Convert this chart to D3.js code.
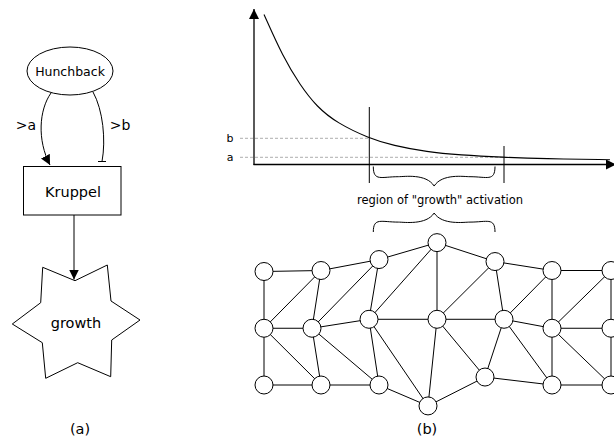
<!DOCTYPE html>
<html><head><meta charset="utf-8">
<script src="https://cdn.jsdelivr.net/npm/d3@7/dist/d3.min.js"></script>
<style>body{margin:0;background:#fff}svg{display:block;font-family:"DejaVu Sans",sans-serif}</style>
</head><body><svg id="c" width="614" height="439"></svg>
<script>
// ---- data ----
const curveX = [10, 29, 46, 63, 83, 115, 139, 173, 206, 249, 289, 356];
const curveY = [150, 107.5, 79.5, 57.5, 41.5, 26.2, 19, 12.5, 9.5, 7.2, 5.8, 4.8];
const thresholdLabels = ["a", "b"];
const thresholdValues = [7.2, 26.2];
const markerX = [115.3, 250];
const regionLabel = 'region of "growth" activation';
const panelLabels = ["(a)", "(b)"];
const geneNodes = ["Hunchback", "Kruppel", "growth"];
const edgeLabels = [">a", ">b"];
// network nodes: [column position, row position]
const netNodes = [
  [10, 0], [67, -1], [125, -12], [183, -29], [241, -10], [298, -1], [357, -1],
  [10, 57], [58, 57], [115, 48], [183, 48], [250, 48], [298, 57], [357, 57],
  [10, 114], [67, 114], [125, 114], [174, 135], [231, 106], [298, 114], [357, 114]
];
const netEdges = [
  [0,1],[1,2],[2,3],[3,4],[4,5],[5,6],
  [7,8],[8,9],[9,10],[10,11],[11,12],[12,13],
  [14,15],[15,16],[16,17],[17,18],[18,19],[19,20],
  [0,7],[7,14],[1,8],[8,15],[2,9],[9,16],[3,10],[10,17],[4,11],[11,18],[5,12],[12,19],[6,13],[13,20],
  [7,1],[7,15],[8,2],[8,16],[9,3],[9,17],[10,4],[10,18],[11,5],[11,19],[12,6],[12,20]
];
// star shape vertices (outer/inner alternating)
const starPts = [[42.7,267.3],[75,280.7],[107.3,265],[111,301],[140,320],[111.7,340],[110.7,376.7],[77.7,362.7],[45.7,378.3],[42.3,342.7],[12.3,324],[40.7,302.7]];

const svg = d3.select("#c");
const defs = svg.append("defs");
defs.append("marker").attr("id","arr").attr("viewBox","0 0 10 10").attr("refX",10).attr("refY",5)
  .attr("markerWidth",10).attr("markerHeight",10).attr("markerUnits","userSpaceOnUse").attr("orient","auto")
  .append("path").attr("d","M0,0L10,5L0,10Z").attr("fill","#000");

// ---- panel (b) top: plot ----
const x = d3.scaleLinear().domain([0, 360]).range([254, 614]);
const y = d3.scaleLinear().domain([0, 150]).range([164.5, 14.5]);
const g = svg.append("g");
g.selectAll(".th").data(thresholdValues).join("line")
  .attr("x1", 240).attr("x2", (d,i)=>x(markerX[1-i]))
  .attr("y1", d=>y(d)).attr("y2", d=>y(d))
  .attr("stroke","#999").attr("stroke-width",0.8).attr("stroke-dasharray","3,2");
g.selectAll(".thl").data(thresholdLabels).join("text")
  .attr("x", 230).attr("y", (d,i)=>y(thresholdValues[i])+4)
  .attr("text-anchor","middle").attr("font-size",11).text(d=>d);
g.append("line").attr("x1",x(0)).attr("x2",x(0)).attr("y1",y(0)+0.5).attr("y2",9)
  .attr("stroke","#000").attr("stroke-width",1.3).attr("marker-end","url(#arr)");
g.append("line").attr("x1",x(0)-0.5).attr("x2",x(360)+2).attr("y1",y(0)).attr("y2",y(0))
  .attr("stroke","#000").attr("stroke-width",1.3).attr("marker-end","url(#arr)");
g.append("path").datum(curveX.map((d,i)=>[d,curveY[i]]))
  .attr("d", d3.line().x(d=>x(d[0])).y(d=>y(d[1])).curve(d3.curveBasis))
  .attr("fill","none").attr("stroke","#000").attr("stroke-width",1.1);
g.append("line").attr("x1",x(markerX[0])).attr("x2",x(markerX[0])).attr("y1",107).attr("y2",183).attr("stroke","#000").attr("stroke-width",1);
g.append("line").attr("x1",x(markerX[1])).attr("x2",x(markerX[1])).attr("y1",146).attr("y2",183).attr("stroke","#000").attr("stroke-width",1);

function brace(x1, x2, yb, depth, dir) {
  const xm = (x1+x2)/2, d = depth*dir;
  return `M${x1},${yb} C${x1},${yb+d*0.9} ${x1+8},${yb+d*0.6} ${x1+25},${yb+d*0.6}`+
    ` C${xm-30},${yb+d*0.6} ${xm-8},${yb+d*0.4} ${xm},${yb+d*1.15}`+
    ` C${xm+8},${yb+d*0.4} ${xm+30},${yb+d*0.6} ${x2-25},${yb+d*0.6}`+
    ` C${x2-8},${yb+d*0.6} ${x2},${yb+d*0.9} ${x2},${yb}`;
}
g.append("path").attr("d", brace(x(markerX[0])+4, x(markerX[1])-9, 166.5, 17, 1)).attr("fill","none").attr("stroke","#000").attr("stroke-width",1);
g.append("text").attr("x",440).attr("y",204).attr("text-anchor","middle").attr("font-size",11.5).text(regionLabel);
g.append("path").attr("d", brace(x(markerX[0])+4, x(markerX[1])-9, 232, 16.5, -1)).attr("fill","none").attr("stroke","#000").attr("stroke-width",1);

// ---- network ----
const nx = d3.scaleLinear().domain([0, 360]).range([254, 614]);
const ny = d3.scaleLinear().domain([0, 114]).range([271.5, 385]);
const ng = svg.append("g");
ng.selectAll("line").data(netEdges).join("line")
  .attr("x1", d=>nx(netNodes[d[0]][0])).attr("y1", d=>ny(netNodes[d[0]][1]))
  .attr("x2", d=>nx(netNodes[d[1]][0])).attr("y2", d=>ny(netNodes[d[1]][1]))
  .attr("stroke","#000").attr("stroke-width",1);
ng.selectAll("circle").data(netNodes).join("circle")
  .attr("cx", d=>nx(d[0])).attr("cy", d=>ny(d[1])).attr("r", 9)
  .attr("fill","#fff").attr("stroke","#000").attr("stroke-width",1);

// ---- panel (a) ----
const a = svg.append("g");
a.append("path").attr("d","M51,93 C39,110 37,140 50,165").attr("fill","none").attr("stroke","#000").attr("stroke-width",1).attr("marker-end","url(#arr)");
a.append("path").attr("d","M93,92 C103,110 106,140 102,161.5").attr("fill","none").attr("stroke","#000").attr("stroke-width",1);
a.append("line").attr("x1",98).attr("x2",106).attr("y1",161.5).attr("y2",161.5).attr("stroke","#000").attr("stroke-width",1);
a.append("ellipse").attr("cx",70).attr("cy",71).attr("rx",43).attr("ry",24).attr("fill","#fff").attr("stroke","#000").attr("stroke-width",1);
a.append("text").attr("x",70).attr("y",75.5).attr("text-anchor","middle").attr("font-size",12.5).text(geneNodes[0]);
a.selectAll(".el").data(edgeLabels).join("text").attr("x",(d,i)=>[26,120][i]).attr("y",130).attr("text-anchor","middle").attr("font-size",14).text(d=>d);
a.append("rect").attr("x",23.5).attr("y",166.5).attr("width",97.5).attr("height",48.5).attr("fill","#fff").attr("stroke","#000").attr("stroke-width",1);
a.append("text").attr("x",73).attr("y",197).attr("text-anchor","middle").attr("font-size",14.5).text(geneNodes[1]);
a.append("line").attr("x1",74).attr("x2",74).attr("y1",215).attr("y2",279.5).attr("stroke","#000").attr("stroke-width",1).attr("marker-end","url(#arr)");
a.append("path").attr("d", d3.line()(starPts)+"Z").attr("fill","#fff").attr("stroke","#000").attr("stroke-width",1);
a.append("text").attr("x",76).attr("y",328).attr("text-anchor","middle").attr("font-size",14.5).text(geneNodes[2]);

svg.selectAll(".pl").data(panelLabels).join("text").attr("x",(d,i)=>[80,427][i]).attr("y",433.5)
  .attr("text-anchor","middle").attr("font-size",14.5).text(d=>d);
</script></body></html>
